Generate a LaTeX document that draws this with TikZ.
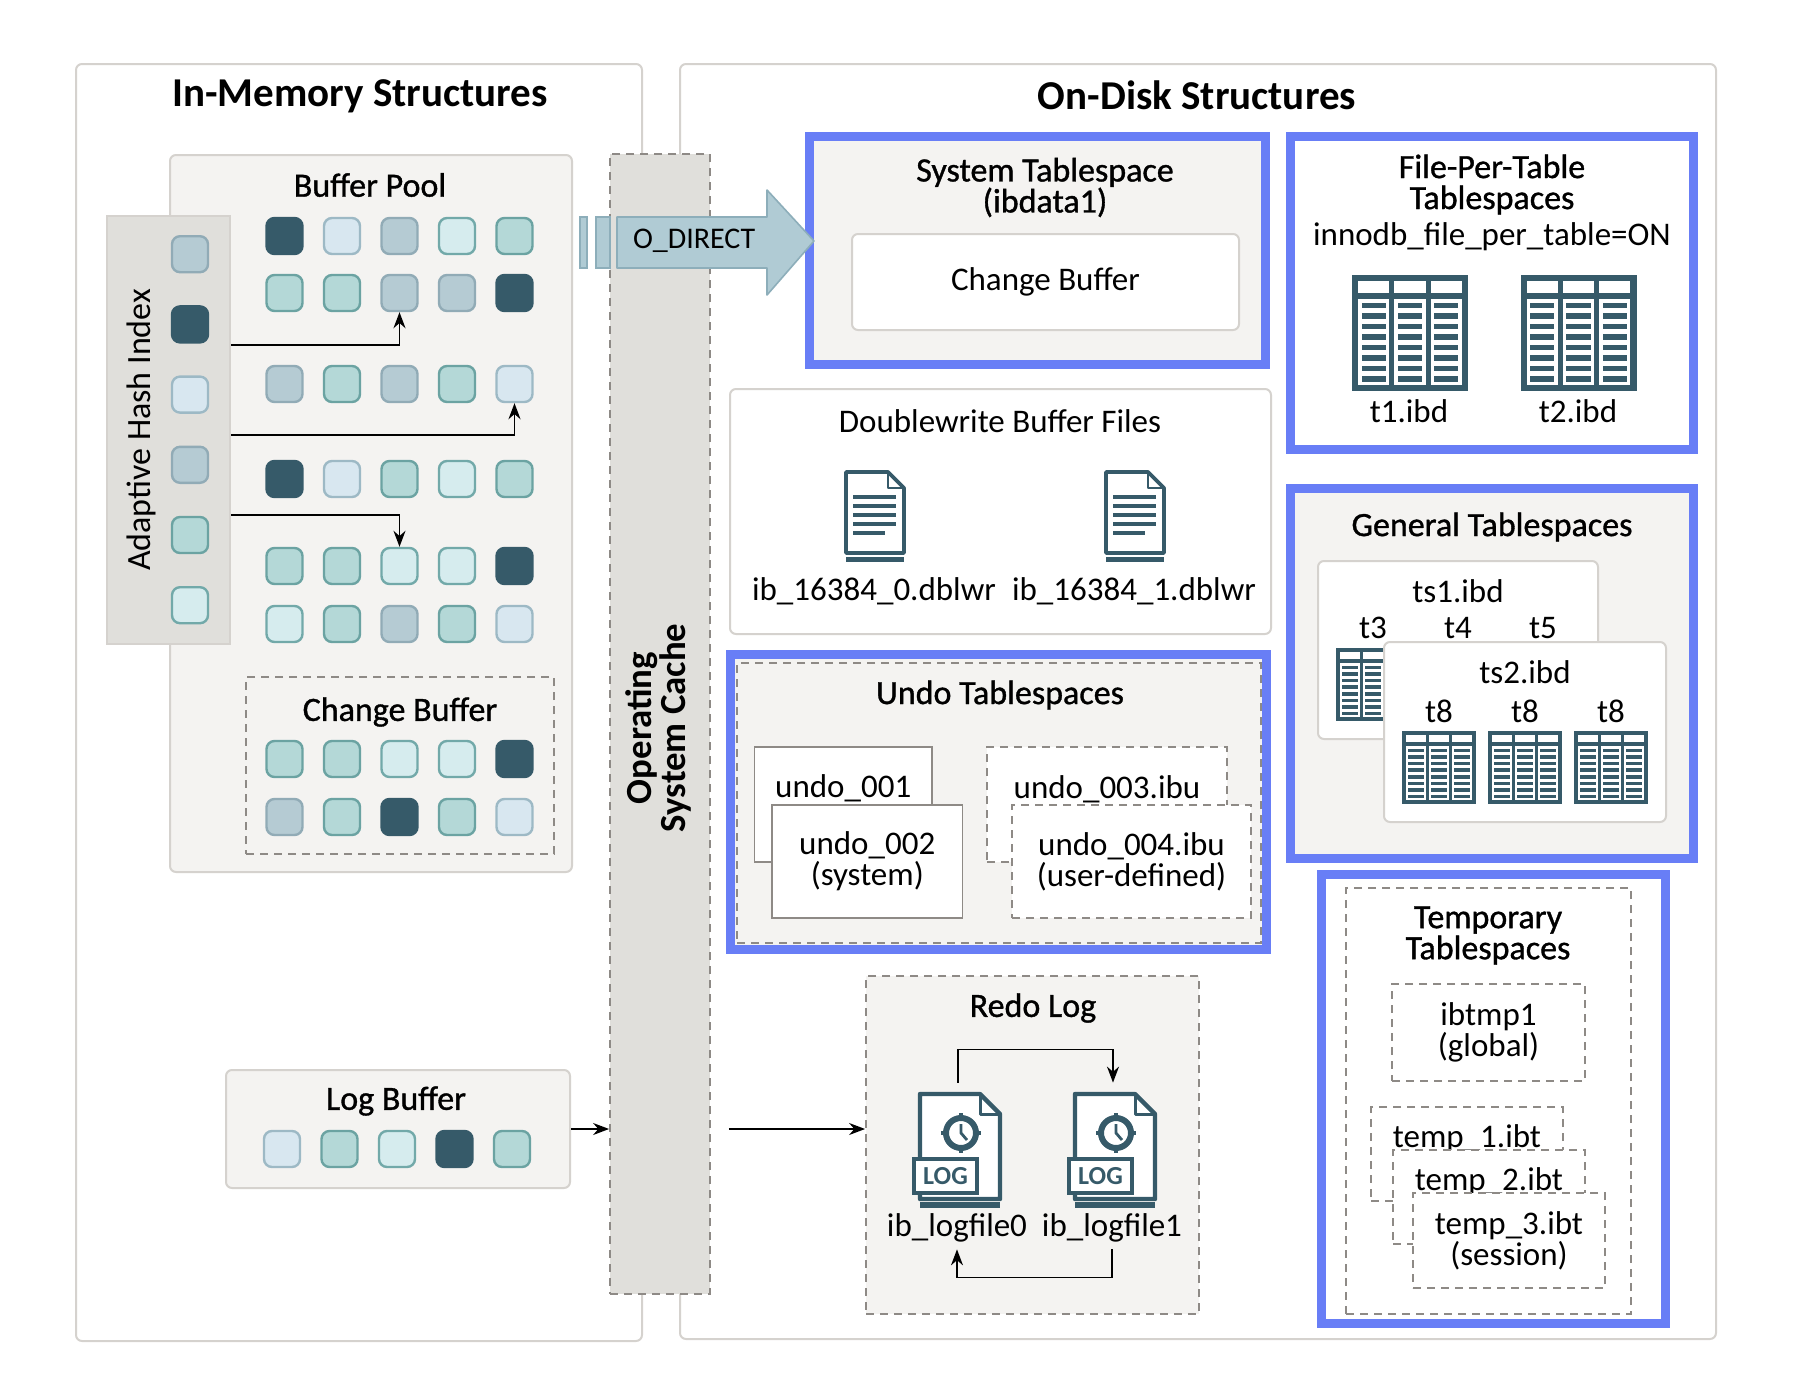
\documentclass[tikz,border=0pt]{standalone}
\usepackage{fontspec}
\setmainfont{Carlito}
\newfontfamily\medfont{Carlito}[FakeBold=1]
\usepackage{tikz}
\usetikzlibrary{positioning, fit, arrows.meta, calc}

\definecolor{iconc}{HTML}{365A69}
\definecolor{frameblue}{HTML}{687EF6}
\definecolor{panelgray}{HTML}{F4F3F1}
\definecolor{panelline}{HTML}{D5D2CE}
\definecolor{cachegray}{HTML}{E0DFDB}
\definecolor{dashgray}{HTML}{8E8A86}
\definecolor{arrowfill}{HTML}{B0CBD4}
\definecolor{arrowline}{HTML}{8DAEBA}
\definecolor{sqdarkc}{HTML}{365A69}
\definecolor{sqbluef}{HTML}{D8E7F0}
\definecolor{sqbluel}{HTML}{9DB9C5}
\definecolor{sqgrayf}{HTML}{B5CBD3}
\definecolor{sqgrayl}{HTML}{91ABB6}
\definecolor{sqcyanf}{HTML}{D6ECEE}
\definecolor{sqcyanl}{HTML}{72A9A9}
\definecolor{sqtealf}{HTML}{B4D8D7}
\definecolor{sqteall}{HTML}{6BA3A2}

\tikzset{
  tblicon/.pic={
    \fill[iconc] (-58,-58) rectangle (58,58);
    \foreach \j in {0,1,2} {
      \fill[white] (-52+36.3*\j,-52) rectangle ++(31.3,12);
      \fill[white] (-52+36.3*\j,-34) rectangle ++(31.3,86);
      \foreach \k in {0,...,7}
        \fill[iconc] (-48.5+36.3*\j,-30+10.5*\k) rectangle ++(24.3,5.5);
    }
  },
  docicon/.pic={
    \draw[iconc, line width=1.9pt, fill=white, line join=round] (-29,-44) -- (13,-44) -- (29,-28) -- (29,37) -- (-29,37) -- cycle;
    \draw[iconc, line width=1.4pt, line join=round] (13,-44) -- (13,-28) -- (29,-28);
    \foreach \yy/\xe in {-19/21,-10/21,-1/21,8/21,17/10}
      \draw[iconc, line width=1.7pt] (-22,\yy) -- (\xe,\yy);
    \draw[iconc, line width=2.5pt] (-29,43) -- (29,43);
  },
  logicon/.pic={
    \draw[iconc, line width=2.2pt, fill=white, line join=round] (-38,-56) -- (22,-56) -- (42,-36) -- (42,49) -- (-38,49) -- cycle;
    \draw[iconc, line width=1.5pt, line join=round] (22,-56) -- (22,-36) -- (42,-36);
    \draw[iconc, line width=3pt] (3,-17) circle (15);
    \foreach \a in {0,90,180,270}
      \draw[iconc, line width=2pt] ($(3,-17)+(\a:15)$) -- ($(3,-17)+(\a:20)$);
    \draw[iconc, line width=1.4pt] (3,-26) -- (3,-17) -- (9,-10);
    \draw[iconc, line width=2.2pt, fill=white] (-44,9) rectangle (19,43);
    \node[font=\bfseries\fontsize{13}{13}\selectfont, text=iconc] at (-12.5,26) {LOG};
    \draw[iconc, line width=2.8pt] (-38,55) -- (42,55);
  },
}

\begin{document}
\begin{tikzpicture}[x=0.5pt, y=-0.5pt, font=\fontsize{16.5}{15.5}\selectfont,
  panel/.style={draw=panelline, line width=1pt, fill=panelgray, rounded corners=3pt, inner sep=0pt},
  bluebox/.style={draw=frameblue, line width=4.5pt, inner sep=0pt},
  dashbox/.style={draw=dashgray, line width=0.9pt, dash pattern=on 4pt off 3pt, inner sep=0pt},
  filebox/.style={draw=dashgray, line width=0.9pt, fill=white, align=center, inner sep=0pt},
  dashfile/.style={filebox, dash pattern=on 4pt off 3pt},
  heading/.style={font=\medfont\fontsize{17}{15.5}\selectfont, align=center},
  bigtitle/.style={font=\bfseries\fontsize{20.5}{20}\selectfont},
  sq/.style={minimum size=18pt, rounded corners=4pt, line width=1.2pt, inner sep=0pt},
  sqdark/.style={fill=sqdarkc, draw=sqdarkc},
  sqblue/.style={fill=sqbluef, draw=sqbluel},
  sqgray/.style={fill=sqgrayf, draw=sqgrayl},
  sqcyan/.style={fill=sqcyanf, draw=sqcyanl},
  sqteal/.style={fill=sqtealf, draw=sqteall},
  arr/.style={-{Stealth[length=8pt, width=6pt]}, line width=0.8pt},
  odirect/.style={fill=arrowfill, draw=arrowline, line width=0.8pt}]
\useasboundingbox (0,0) rectangle (1796,1398);

% in-memory side
\node[panel, fill=white, fit={(76,64) (642,1341)}] (inmem) {};
\node[bigtitle] at (360,96) {In-Memory Structures};
\node[panel, fill=white, fit={(680,64) (1716,1339)}] (ondisk) {};
\node[bigtitle] at (1197,95) {On-Disk Structures};

\node[panel, fit={(170,155) (572,872)}] (bp) {};
\node[heading] at (370,185) {Buffer Pool};
\node[draw=panelline, line width=1pt, fill=cachegray, inner sep=0pt, fit={(107,216) (230,644)}] (ahi) {};
\node[rotate=90, font=\fontsize{17}{17}\selectfont] at (141,430) {Adaptive Hash Index};
\foreach \st [count=\i] in {sqgray,sqdark,sqblue,sqgray,sqteal,sqcyan}
  \node[sq, \st] (ah-\i) at (190,{184+70.2*\i}) {};

\node[dashbox, fit={(246,677) (554,854)}] (cbuf) {};
\node[heading] at (400,712) {Change Buffer};

\foreach \yy/\rw/\cols in {
  236/bp1/{sqdark,sqblue,sqgray,sqcyan,sqteal},
  293/bp2/{sqteal,sqteal,sqgray,sqgray,sqdark},
  384/bp3/{sqgray,sqteal,sqgray,sqteal,sqblue},
  479/bp4/{sqdark,sqblue,sqteal,sqcyan,sqteal},
  566/bp5/{sqteal,sqteal,sqcyan,sqcyan,sqdark},
  624/bp6/{sqcyan,sqteal,sqgray,sqteal,sqblue},
  759/cb1/{sqteal,sqteal,sqcyan,sqcyan,sqdark},
  817/cb2/{sqgray,sqteal,sqdark,sqteal,sqblue}}
  \foreach \st [count=\i] in \cols
    \node[sq, \st] (\rw-\i) at ({227+57.5*\i},\yy) {};

\coordinate (h1) at (ahi.east |- 0,345);
\coordinate (h2) at (ahi.east |- 0,435);
\coordinate (h3) at (ahi.east |- 0,515);
\draw[arr] (h1) -| (bp2-3.south);
\draw[arr] (h2) -| (bp3-5.south);
\draw[arr] (h3) -| (bp5-3.north);

\node[panel, fit={(226,1070) (570,1188)}] (logbuf) {};
\node[heading] at (396,1101) {Log Buffer};
\foreach \st [count=\i] in {sqblue,sqteal,sqcyan,sqdark,sqteal}
  \node[sq, \st] (lb-\i) at ({224.5+57.5*\i},1149) {};

% operating system cache
\node[dashbox, fill=cachegray, fit={(610,154) (710,1294)}] (oscache) {};
\node[rotate=90, font=\bfseries\fontsize{18.4}{16}\selectfont, align=center] at (658,728) {Operating\\System Cache};
\draw[arr] (logbuf.east) -- (oscache.west |- logbuf.east);

% system tablespace
\node[bluebox, fill=panelgray, fit={(809.5,136.5) (1265.5,364.5)}] (systs) {};
\node[heading] at (1045,187.5) {System Tablespace\\(ibdata1)};
\node[panel, fill=white, minimum width=193.5pt, minimum height=48pt] (syscb) at (1045.5,282) {Change Buffer};

\draw[odirect] (580,217) rectangle (587,268);
\draw[odirect] (596,217) rectangle (610,268);
\draw[odirect, line join=round] (617,217) -- (767,217) -- (767,190) -- (814,241) -- (767,295) -- (767,268) -- (617,268) -- cycle;
\node[anchor=west, font=\fontsize{15}{15}\selectfont] (odir) at (626,241) {O\_DIRECT};

% doublewrite
\node[panel, fill=white, fit={(730,389) (1271,634)}] (dblwr) {};
\node at (1000,421) {Doublewrite Buffer Files};
\pic at (875,516) {docicon};
\pic at (1135,516) {docicon};
\node (dw0) at (874,591) {ib\_16384\_0.dblwr};
\node (dw1) at (1134,591) {ib\_16384\_1.dblwr};

% undo
\node[bluebox, fill=panelgray, fit={(730.5,654.5) (1266.5,949.5)}] (undo) {};
\node[dashbox, fit={(737,663) (1261,943)}] (undoin) {};
\node[heading] at (1000,695) {Undo Tablespaces};
\node[filebox, minimum width=88.75pt, minimum height=57.5pt] (u1) at (843.25,804.5) {undo\_001\\\phantom{(system)}};
\node[filebox, minimum width=95.25pt, minimum height=56.5pt] (u2) at (867.25,861.5) {undo\_002\\(system)};
\node[dashfile, minimum width=120pt, minimum height=57.5pt] (u3) at (1107,804.5) {undo\_003.ibu\\\phantom{(user-defined)}};
\node[dashfile, minimum width=119.5pt, minimum height=56.5pt] (u4) at (1131.5,861.5) {undo\_004.ibu\\(user-defined)};

% file-per-table
\node[bluebox, fill=white, fit={(1290.5,136.5) (1693.5,449.5)}] (fpt) {};
\node[heading] at (1492,184.5) {File-Per-Table\\Tablespaces};
\node at (1492,237) {innodb\_file\_per\_table=ON};
\pic at (1410,332.5) {tblicon};
\pic at (1578.5,332.5) {tblicon};
\node (t1) at (1409,411) {t1.ibd};
\node (t2) at (1578,411) {t2.ibd};

% general
\node[bluebox, fill=panelgray, fit={(1290.5,488.5) (1693.5,858.5)}] (gents) {};
\node[heading] at (1492,527) {General Tablespaces};
\node[panel, fill=white, fit={(1318,561) (1598,739)}] (ts1) {};
\node at (1458,591) {ts1.ibd};
\foreach \xx/\tn in {1373/t3,1458/t4,1543/t5} {
  \node (\tn) at (\xx,628) {\tn};
  \pic[scale=0.63] at (\xx,684.5) {tblicon};
}
\node[panel, fill=white, fit={(1384,642) (1666,822)}] (ts2) {};
\node at (1525,672) {ts2.ibd};
\foreach \xx [count=\i] in {1439,1525,1611} {
  \node (t8-\i) at (\xx,711) {t8};
  \pic[scale=0.63] at (\xx,767.5) {tblicon};
}

% temporary
\node[bluebox, fill=white, fit={(1321.5,874.5) (1665.5,1323.5)}] (tmpts) {};
\node[dashbox, fit={(1346,888) (1631,1314)}] (tmpin) {};
\node[heading, font=\medfont\fontsize{17}{14.5}\selectfont] at (1488,935.5) {Temporary\\Tablespaces};
\node[dashfile, minimum width=96.5pt, minimum height=48.5pt] (ibtmp) at (1488.5,1032.5) {ibtmp1\\(global)};
\node[dashfile, minimum width=96pt, minimum height=47pt] (tmp1) at (1467,1154) {temp\_1.ibt\\\phantom{(session)}};
\node[dashfile, minimum width=96pt, minimum height=47pt] (tmp2) at (1489,1197) {temp\_2.ibt\\\phantom{(session)}};
\node[dashfile, minimum width=96pt, minimum height=47.5pt] (tmp3) at (1509,1240.5) {temp\_3.ibt\\(session)};

% redo log
\node[dashbox, fill=panelgray, fit={(866,976) (1199,1314)}] (redo) {};
\node[heading] at (1033,1008) {Redo Log};
\node[minimum width=44pt, minimum height=62.5pt, inner sep=0pt] (lf0) at (958,1145.5) {};
\node[minimum width=44pt, minimum height=62.5pt, inner sep=0pt] (lf1) at (1113,1145.5) {};
\pic at (958,1150) {logicon};
\pic at (1113,1150) {logicon};
\node (lf0name) at (957,1228) {ib\_logfile0};
\node (lf1name) at (1112,1228) {ib\_logfile1};
\draw[arr] (lf0.north) -- ++(0,-33) -| (lf1.north);
\draw[arr] (lf1name.south) -- ++(0,28) -| (lf0name.south);

\coordinate (ocout) at ($(oscache.east |- logbuf.east)+(18,0)$);
\draw[arr] (ocout) -- (redo.west |- ocout);
\end{tikzpicture}
\end{document}
